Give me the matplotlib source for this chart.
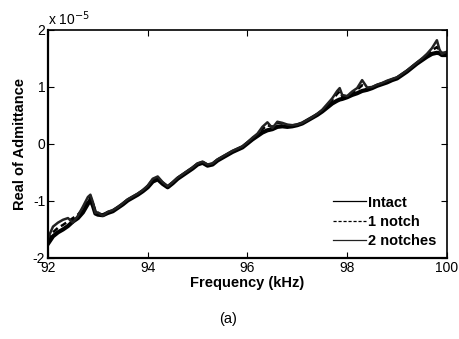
import numpy as np
import matplotlib
matplotlib.use("Agg")
import matplotlib.pyplot as plt

# Frequency (kHz)
freq = [92.0, 92.1, 92.2, 92.3, 92.4, 92.5, 92.6, 92.7, 92.8, 92.85, 92.9, 92.95,
        93.0, 93.1, 93.2, 93.3, 93.4, 93.5, 93.6, 93.7, 93.8, 93.9, 94.0, 94.1,
        94.2, 94.3, 94.4, 94.5, 94.6, 94.7, 94.8, 94.9, 95.0, 95.1, 95.2, 95.3,
        95.4, 95.5, 95.6, 95.7, 95.8, 95.9, 96.0, 96.1, 96.2, 96.3, 96.4, 96.5,
        96.6, 96.7, 96.8, 96.9, 97.0, 97.1, 97.2, 97.3, 97.4, 97.5, 97.6, 97.7,
        97.8, 97.85, 97.9, 98.0, 98.1, 98.2, 98.3, 98.4, 98.5, 98.6, 98.7, 98.8,
        98.9, 99.0, 99.1, 99.2, 99.3, 99.4, 99.5, 99.6, 99.7, 99.8, 99.85, 99.9, 100.0]

# Real of admittance (x 1e-5)
intact = [-1.75, -1.62, -1.55, -1.50, -1.44, -1.36, -1.30, -1.20, -1.05, -0.98, -1.08, -1.22,
          -1.24, -1.25, -1.21, -1.18, -1.12, -1.06, -0.99, -0.94, -0.89, -0.83, -0.76, -0.66,
          -0.62, -0.70, -0.76, -0.69, -0.61, -0.55, -0.49, -0.43, -0.36, -0.33, -0.38, -0.36,
          -0.29, -0.24, -0.19, -0.14, -0.10, -0.06, 0.01, 0.08, 0.14, 0.20, 0.24, 0.26,
          0.30, 0.31, 0.30, 0.31, 0.33, 0.36, 0.41, 0.46, 0.51, 0.57, 0.64, 0.71,
          0.76, 0.78, 0.79, 0.82, 0.86, 0.89, 0.93, 0.95, 0.98, 1.02, 1.05, 1.08,
          1.12, 1.15, 1.21, 1.27, 1.34, 1.41, 1.47, 1.53, 1.58, 1.60, 1.59, 1.56, 1.56]
one_notch = [-1.70, -1.55, -1.47, -1.42, -1.36, -1.30, -1.24, -1.14, -0.98, -0.92, -1.05, -1.20,
             -1.22, -1.24, -1.20, -1.17, -1.12, -1.05, -0.98, -0.93, -0.88, -0.82, -0.74, -0.63,
             -0.59, -0.68, -0.75, -0.68, -0.60, -0.54, -0.48, -0.42, -0.35, -0.32, -0.37, -0.35,
             -0.28, -0.23, -0.18, -0.13, -0.09, -0.05, 0.02, 0.10, 0.16, 0.26, 0.33, 0.30,
             0.37, 0.36, 0.33, 0.32, 0.33, 0.36, 0.41, 0.46, 0.52, 0.59, 0.68, 0.77,
             0.88, 0.92, 0.84, 0.83, 0.90, 0.95, 1.03, 0.97, 0.99, 1.03, 1.06, 1.10,
             1.13, 1.16, 1.22, 1.28, 1.35, 1.42, 1.49, 1.56, 1.64, 1.70, 1.64, 1.60, 1.60]
two_notches = [-1.65, -1.45, -1.38, -1.33, -1.30, -1.38, -1.26, -1.10, -0.93, -0.89, -1.02, -1.21,
               -1.20, -1.26, -1.19, -1.16, -1.11, -1.04, -0.97, -0.92, -0.87, -0.81, -0.73, -0.61,
               -0.57, -0.67, -0.74, -0.67, -0.59, -0.53, -0.47, -0.41, -0.34, -0.31, -0.36, -0.34,
               -0.27, -0.22, -0.17, -0.12, -0.08, -0.04, 0.03, 0.11, 0.18, 0.30, 0.38, 0.28,
               0.39, 0.37, 0.34, 0.33, 0.34, 0.37, 0.42, 0.47, 0.53, 0.60, 0.70, 0.80,
               0.93, 0.98, 0.86, 0.84, 0.92, 0.98, 1.12, 0.99, 1.00, 1.04, 1.07, 1.11,
               1.14, 1.17, 1.23, 1.29, 1.36, 1.43, 1.50, 1.58, 1.68, 1.82, 1.66, 1.58, 1.62]

xticks = [92, 94, 96, 98, 100]
yticks = [-2, -1, 0, 1, 2]

plt.rcParams['font.family'] = ['Liberation Sans', 'DejaVu Sans']
fig = plt.figure(figsize=(4.59, 3.39), dpi=100)
ax = fig.add_axes([0.1046, 0.239, 0.869, 0.6726])

ax.plot(freq, intact, color='black', lw=3.0, ls='-', label='Intact')
ax.plot(freq, one_notch, color='black', lw=1.8, ls=(0, (2.5, 1.5)), label='1 notch')
ax.plot(freq, two_notches, color='#222222', lw=1.8, ls='-', label='2 notches')

ax.set_xlim(92, 100)
ax.set_ylim(-2, 2)
ax.set_xticks(xticks)
ax.set_yticks(yticks)
ax.set_xticklabels([str(t) for t in xticks], fontsize=10)
ax.set_yticklabels([str(t) for t in yticks], fontsize=10)
ax.tick_params(direction='in', top=True, right=True, length=4, width=0.8, pad=2)
for s in ['left', 'bottom']:
    ax.spines[s].set_linewidth(1.6)
for s in ['top', 'right']:
    ax.spines[s].set_linewidth(1.2)

ax.set_xlabel('Frequency (kHz)', fontsize=10.5, fontweight='bold', labelpad=1)
ax.set_ylabel('Real of Admittance', fontsize=10.5, fontweight='bold', labelpad=4)
ax.text(0.0, 1.01, r'x 10$^{-5}$', transform=ax.transAxes, fontsize=10, ha='left', va='bottom')

leg = ax.legend(loc='lower right', frameon=False, handlelength=2.3,
                handletextpad=0.15, labelspacing=0.35, borderaxespad=0.3,
                prop={'weight': 'bold', 'size': 10.5})
for ln in leg.get_lines():
    ln.set_linewidth(0.9)

fig.text(0.497, 0.06, '(a)', fontsize=10.5, ha='center', va='center')

fig.savefig('out.png', dpi=100)
